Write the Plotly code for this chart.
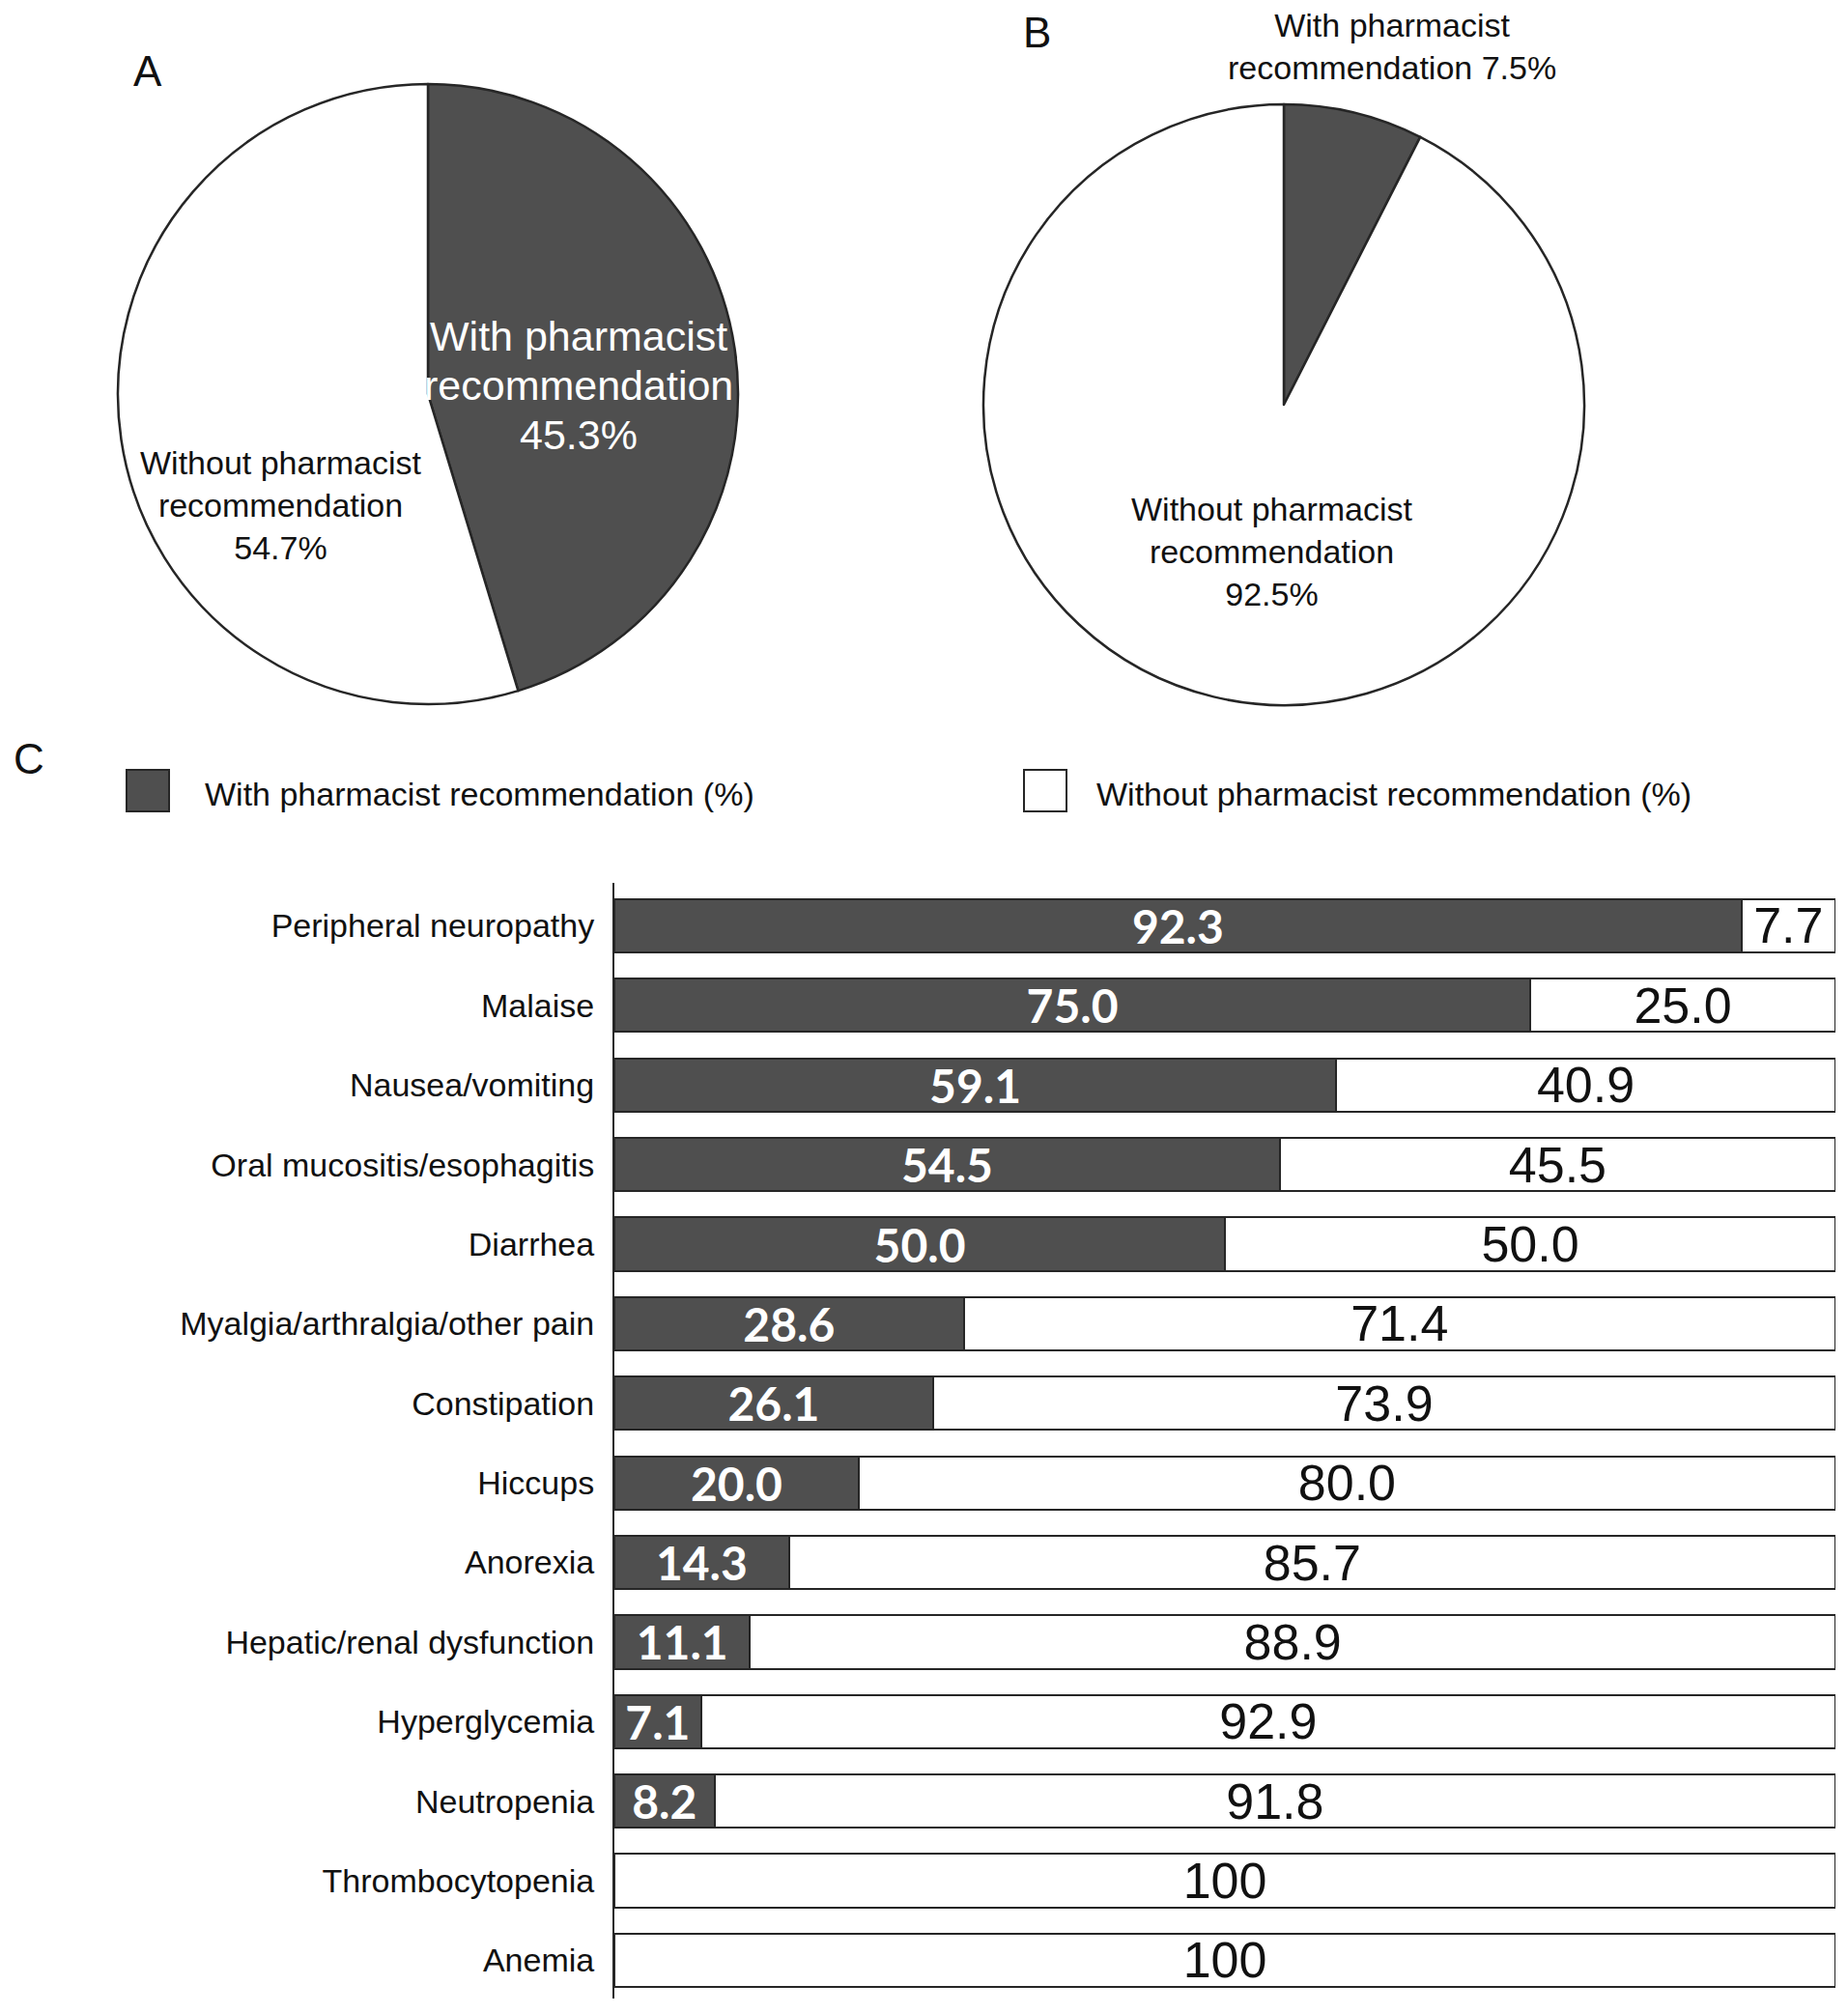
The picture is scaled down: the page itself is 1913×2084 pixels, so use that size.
"""
Pharmacist recommendation charts: two pies (A, B) and a stacked bar chart (C).
"""

import plotly.graph_objects as go

# Pie A / Pie B shares (%)
pie_labels = ['With pharmacist recommendation', 'Without pharmacist recommendation']
pie_a_values = [45.3, 54.7]
pie_b_values = [7.5, 92.5]

# Panel C
symptoms = [
    'Peripheral neuropathy', 'Malaise', 'Nausea/vomiting',
    'Oral mucositis/esophagitis', 'Diarrhea', 'Myalgia/arthralgia/other pain',
    'Constipation', 'Hiccups', 'Anorexia', 'Hepatic/renal dysfunction',
    'Hyperglycemia', 'Neutropenia', 'Thrombocytopenia', 'Anemia',
]
with_pct = [92.3, 75.0, 59.1, 54.5, 50.0, 28.6, 26.1, 20.0, 14.3, 11.1, 7.1, 8.2, 0, 0]
without_pct = [7.7, 25.0, 40.9, 45.5, 50.0, 71.4, 73.9, 80.0, 85.7, 88.9, 92.9, 91.8, 100, 100]

DARK = '#4f4f4f'
EDGE = '#262626'
W, H = 1913, 2084
OFF = 8  # page body margin
SANS = 'Liberation Sans, Arial, sans-serif'


def px_x(x):
    return (x - OFF) / W


def px_y(y):
    return 1 - (y - OFF) / H


fig = go.Figure()

# --- pies ---
for vals, (x0, x1, y0, y1) in [
    (pie_a_values, (122, 764, 87, 729)),
    (pie_b_values, (1018, 1640, 108, 730)),
]:
    fig.add_trace(go.Pie(
        labels=pie_labels, values=vals, sort=False, direction='clockwise', rotation=0,
        marker=dict(colors=[DARK, 'white'], line=dict(color=EDGE, width=2.5)),
        textinfo='none', hoverinfo='skip', showlegend=False,
        domain=dict(x=[px_x(x0), px_x(x1)], y=[px_y(y1), px_y(y0)]),
    ))

# --- stacked bars ---
with_text = [f'{v:.1f}' if v > 0 else '' for v in with_pct]
without_text = ['100' if v == 100 else f'{v:.1f}' for v in without_pct]

fig.add_trace(go.Bar(
    y=symptoms, x=with_pct, orientation='h', name='With pharmacist recommendation (%)',
    marker=dict(color=DARK, line=dict(color=EDGE, width=2)),
    text=with_text, textposition='inside', insidetextanchor='middle', textangle=0,
    constraintext='none', textfont=dict(family='Lato', size=48, color='white', weight='bold'),
    hoverinfo='skip', showlegend=False,
))
fig.add_trace(go.Bar(
    y=symptoms, x=without_pct, orientation='h', name='Without pharmacist recommendation (%)',
    marker=dict(color='white', line=dict(color=EDGE, width=2)),
    text=without_text, textposition='inside', insidetextanchor='middle', textangle=0,
    constraintext='none', textfont=dict(family=SANS, size=52, color='#111111'),
    hoverinfo='skip', showlegend=False,
))

fig.update_layout(
    width=W, height=H, margin=dict(l=0, r=0, t=0, b=0),
    paper_bgcolor='white', plot_bgcolor='white',
    barmode='stack', bargap=0.33,
    font=dict(family=SANS, color='#111111'),
    xaxis=dict(domain=[px_x(636), px_x(1900)], range=[0, 100], visible=False),
    yaxis=dict(
        domain=[px_y(2069), px_y(914)],
        type='category', categoryorder='array', categoryarray=symptoms,
        range=[13.48, -0.54],
        showline=True, linecolor=EDGE, linewidth=2, showgrid=False, zeroline=False,
        ticks='', ticklabelstandoff=12,
        tickfont=dict(family=SANS, size=34, color='#111111'),
    ),
)


def note(txt, x, y, size, color='#111111', xanchor='center'):
    fig.add_annotation(text=txt, x=px_x(x), y=px_y(y), xref='paper', yref='paper',
                       xanchor=xanchor, yanchor='middle', showarrow=False, align='center',
                       font=dict(size=size, color=color))


# panel letters
for letter, x, y in [('A', 153, 73), ('B', 1073, 33), ('C', 30, 785)]:
    note(letter, x, y, 44)

# pie labels
for line, y in zip(['With pharmacist', 'recommendation', f'{pie_a_values[0]}%'], [348, 399, 450]):
    note(line, 599, y, 43, 'white')
note(f'Without pharmacist<br>recommendation<br>{pie_a_values[1]}%', 291, 523, 34)
note(f'With pharmacist<br>recommendation {pie_b_values[0]}%', 1441, 48, 34)
note(f'Without pharmacist<br>recommendation<br>{pie_b_values[1]}%', 1317, 571, 34)

# legend for panel C
for (sx0, sx1), fill, label, tx in [
    ((131, 175), DARK, 'With pharmacist recommendation (%)', 210),
    ((1060, 1104), 'white', 'Without pharmacist recommendation (%)', 1133),
]:
    fig.add_shape(type='rect', xref='paper', yref='paper',
                  x0=px_x(sx0), x1=px_x(sx1), y0=px_y(840), y1=px_y(797),
                  fillcolor=fill, line=dict(color=EDGE, width=2))
    note(label, tx, 822, 34, xanchor='left')

fig.write_html('out.html')
